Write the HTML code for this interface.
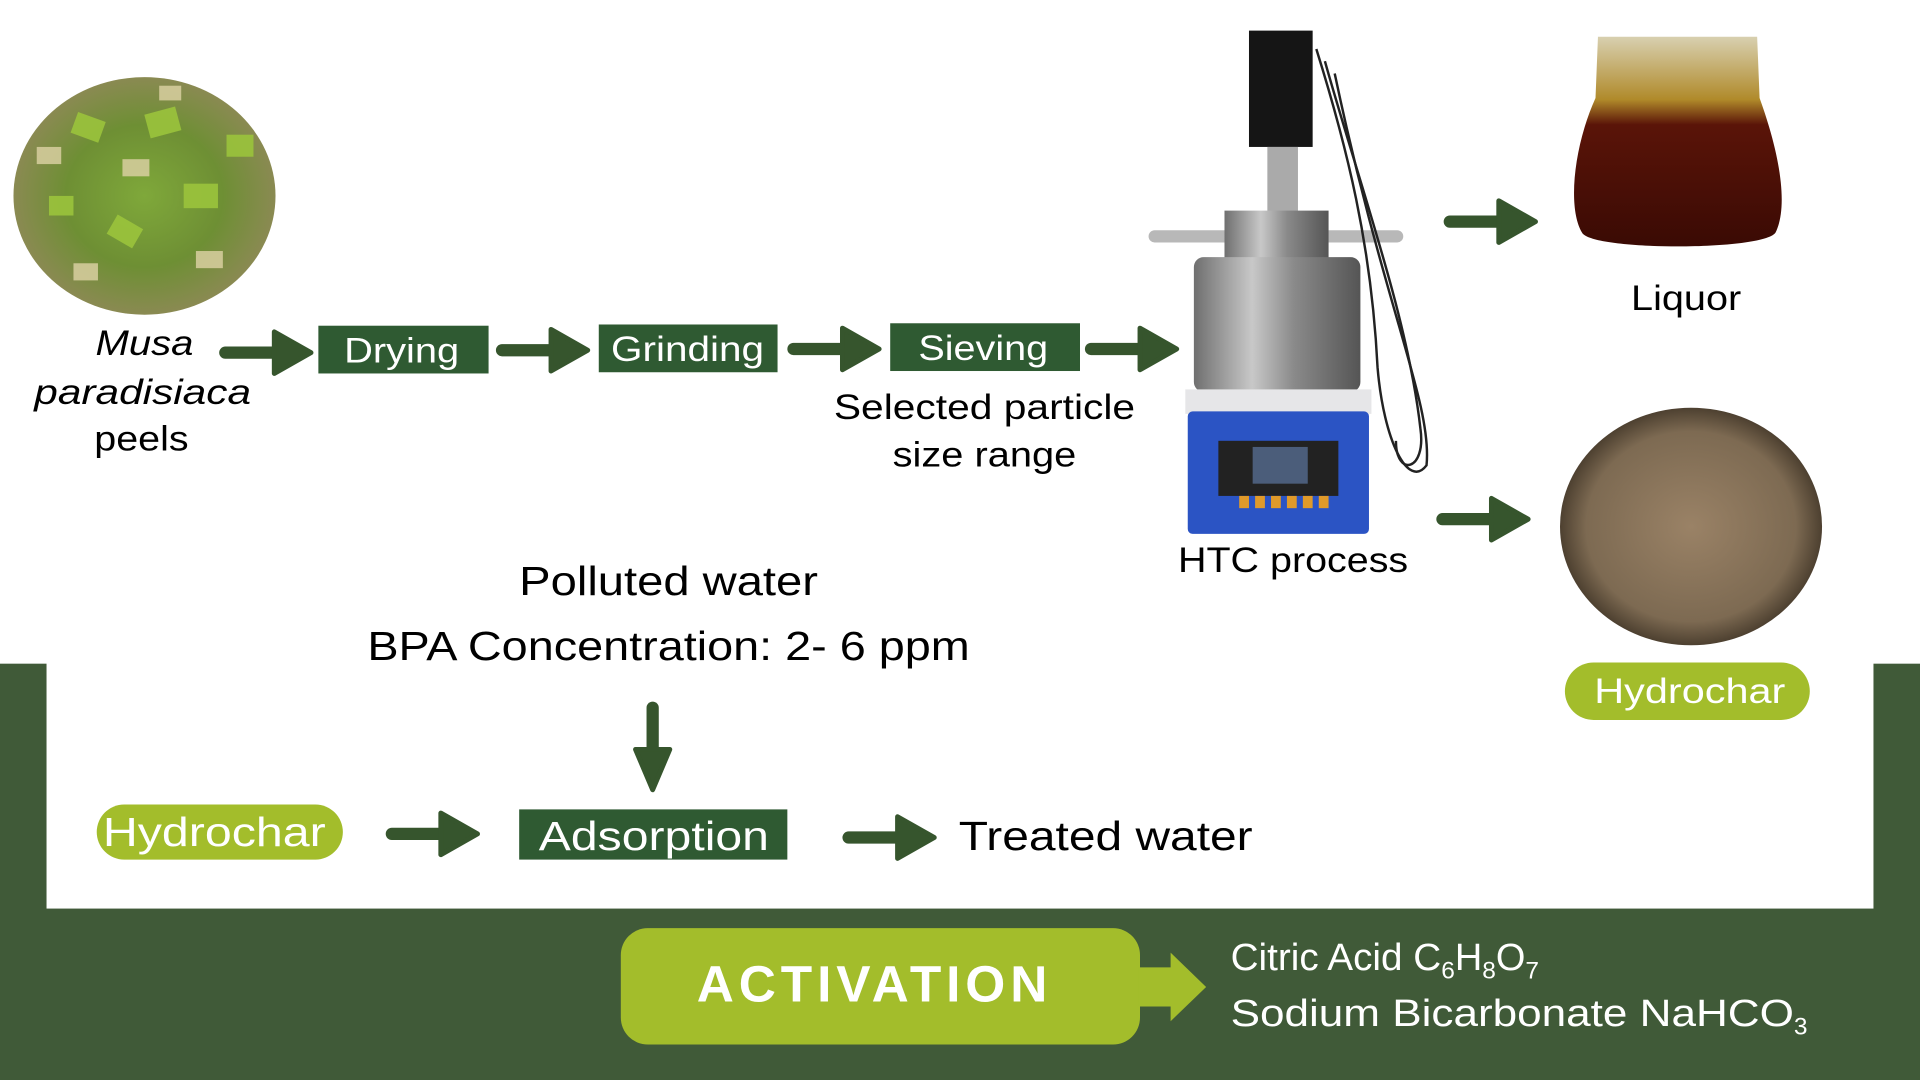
<!DOCTYPE html>
<html><head><meta charset="utf-8"><style>
html,body{margin:0;padding:0;background:#fff;overflow:hidden}
svg{display:block}
text{font-family:"Liberation Sans",sans-serif}
</style></head><body>
<svg width="1920" height="1080" viewBox="0 0 1568 882" preserveAspectRatio="none" xmlns="http://www.w3.org/2000/svg">
<defs>
<radialGradient id="peel" cx="50%" cy="50%" r="50%">
<stop offset="0" stop-color="#7fa83a"/><stop offset="0.6" stop-color="#6e8f34"/><stop offset="1" stop-color="#8a8a52"/>
</radialGradient>
<radialGradient id="char" cx="50%" cy="50%" r="50%">
<stop offset="0" stop-color="#9a8266"/><stop offset="0.8" stop-color="#7d6a52"/><stop offset="1" stop-color="#4d4030"/>
</radialGradient>
<linearGradient id="liq" x1="0" y1="0" x2="0" y2="1">
<stop offset="0" stop-color="#d8d0b0"/><stop offset="0.3" stop-color="#b08a2a"/><stop offset="0.42" stop-color="#5a1408"/><stop offset="1" stop-color="#3a0a04"/>
</linearGradient>
<linearGradient id="steel" x1="0" y1="0" x2="1" y2="0">
<stop offset="0" stop-color="#6f6f6f"/><stop offset="0.35" stop-color="#c8c8c8"/><stop offset="0.6" stop-color="#8a8a8a"/><stop offset="1" stop-color="#555"/>
</linearGradient>
<g id="arr"><line x1="0" y1="0" x2="44" y2="0" stroke="#36552d" stroke-width="10" stroke-linecap="round"/><path d="M40,-17 L70,0 L40,17 Z" fill="#36552d" stroke="#36552d" stroke-width="4" stroke-linejoin="round"/></g>
</defs>

<rect x="0" y="542" width="38" height="340" fill="#405a38"/>
<rect x="1530" y="542" width="38" height="340" fill="#405a38"/>
<rect x="0" y="742" width="1568" height="140" fill="#405a38"/>

<ellipse cx="118" cy="160" rx="107" ry="97" fill="url(#peel)"/>
<g fill="#9bc43c" opacity="0.9">
<rect x="60" y="95" width="24" height="18" transform="rotate(20 72 104)"/>
<rect x="120" y="90" width="26" height="20" transform="rotate(-15 133 100)"/>
<rect x="150" y="150" width="28" height="20"/>
<rect x="90" y="180" width="24" height="18" transform="rotate(30 102 189)"/>
<rect x="40" y="160" width="20" height="16"/>
<rect x="185" y="110" width="22" height="18"/>
</g>
<g fill="#d8cfa0" opacity="0.85">
<rect x="30" y="120" width="20" height="14"/><rect x="100" y="130" width="22" height="14"/>
<rect x="160" y="205" width="22" height="14"/><rect x="60" y="215" width="20" height="14"/>
<rect x="130" y="70" width="18" height="12"/>
</g>

<text x="78" y="290" font-size="29" font-style="italic" textLength="80" lengthAdjust="spacingAndGlyphs">Musa</text>
<text x="28" y="330" font-size="29" font-style="italic" textLength="177" lengthAdjust="spacingAndGlyphs">paradisiaca</text>
<text x="77" y="368" font-size="29" textLength="77" lengthAdjust="spacingAndGlyphs">peels</text>

<use href="#arr" x="184" y="288"/>
<rect x="260" y="266" width="139" height="39" fill="#2f5a32"/>
<text x="281" y="296" font-size="29" fill="#fff" textLength="94" lengthAdjust="spacingAndGlyphs">Drying</text>
<use href="#arr" x="410" y="286"/>
<rect x="489" y="265" width="146" height="39" fill="#2f5a32"/>
<text x="499" y="295" font-size="29" fill="#fff" textLength="125" lengthAdjust="spacingAndGlyphs">Grinding</text>
<use href="#arr" x="648" y="285"/>
<rect x="727" y="264" width="155" height="39" fill="#2f5a32"/>
<text x="750" y="294" font-size="29" fill="#fff" textLength="106" lengthAdjust="spacingAndGlyphs">Sieving</text>
<use href="#arr" x="891" y="285"/>
<text x="681" y="342" font-size="29" textLength="246" lengthAdjust="spacingAndGlyphs">Selected particle</text>
<text x="729" y="381" font-size="29" textLength="150" lengthAdjust="spacingAndGlyphs">size range</text>

<rect x="1020" y="25" width="52" height="95" fill="#151515"/>
<rect x="1035" y="120" width="25" height="60" fill="#aaa"/>
<rect x="938" y="188" width="208" height="10" rx="5" fill="#b8b8b8"/>
<rect x="1000" y="172" width="85" height="40" fill="url(#steel)"/>
<rect x="975" y="210" width="136" height="110" rx="8" fill="url(#steel)"/>
<rect x="968" y="318" width="152" height="20" fill="#e6e6e8"/>
<rect x="970" y="336" width="148" height="100" rx="4" fill="#2b54c4"/>
<rect x="995" y="360" width="98" height="45" fill="#222"/>
<rect x="1023" y="365" width="45" height="30" fill="#4b5d7a"/>
<g fill="#e09a2a"><rect x="1012" y="405" width="8" height="10"/><rect x="1025" y="405" width="8" height="10"/><rect x="1038" y="405" width="8" height="10"/><rect x="1051" y="405" width="8" height="10"/><rect x="1064" y="405" width="8" height="10"/><rect x="1077" y="405" width="8" height="10"/></g>
<path d="M1075,40 C1100,120 1120,200 1125,300 C1130,360 1150,400 1165,380 C1170,330 1130,250 1090,60" fill="none" stroke="#222" stroke-width="2"/>
<path d="M1082,50 C1110,150 1150,260 1160,350 C1165,385 1140,390 1140,360" fill="none" stroke="#222" stroke-width="2"/>
<text x="962" y="467" font-size="29" textLength="188" lengthAdjust="spacingAndGlyphs">HTC process</text>

<path d="M1305,30 L1435,30 L1437,80 C1455,130 1460,170 1450,190 C1440,205 1300,205 1292,190 C1280,170 1285,120 1303,80 Z" fill="url(#liq)"/>
<use href="#arr" x="1184" y="181"/>
<text x="1332" y="253" font-size="29" textLength="90" lengthAdjust="spacingAndGlyphs">Liquor</text>

<use href="#arr" x="1178" y="424"/>
<ellipse cx="1381" cy="430" rx="107" ry="97" fill="url(#char)"/>
<rect x="1278" y="541" width="200" height="47" rx="23.5" fill="#a3bd2b"/>
<text x="1302" y="574" font-size="29" fill="#fff" textLength="156" lengthAdjust="spacingAndGlyphs">Hydrochar</text>

<text x="424" y="486" font-size="33" textLength="244" lengthAdjust="spacingAndGlyphs">Polluted water</text>
<text x="300" y="539" font-size="33" textLength="492" lengthAdjust="spacingAndGlyphs">BPA Concentration: 2- 6 ppm</text>
<line x1="533" y1="578" x2="533" y2="615" stroke="#36552d" stroke-width="10" stroke-linecap="round"/>
<path d="M519,612 L547,612 L533,645 Z" fill="#36552d" stroke="#36552d" stroke-width="4" stroke-linejoin="round"/>

<rect x="79" y="657" width="201" height="45" rx="22.5" fill="#a3bd2b"/>
<text x="84" y="691" font-size="33" fill="#fff" textLength="182" lengthAdjust="spacingAndGlyphs">Hydrochar</text>
<use href="#arr" x="320" y="681"/>
<rect x="424" y="661" width="219" height="41" fill="#2f5a32"/>
<text x="440" y="694" font-size="33" fill="#fff" textLength="188" lengthAdjust="spacingAndGlyphs">Adsorption</text>
<use href="#arr" x="693" y="684"/>
<text x="783" y="694" font-size="33" textLength="240" lengthAdjust="spacingAndGlyphs">Treated water</text>

<rect x="507" y="758" width="424" height="95" rx="22" fill="#a3bd2b"/>
<text x="569" y="818" font-size="42" font-weight="bold" fill="#fff" letter-spacing="4">ACTIVATION</text>
<path d="M930,790 L956,790 L956,778 L985,806 L956,834 L956,822 L930,822 Z" fill="#a3bd2b"/>
<text x="1005" y="792" font-size="31" fill="#fff"><tspan textLength="172" lengthAdjust="spacingAndGlyphs">Citric Acid C</tspan><tspan font-size="20" dy="7">6</tspan><tspan dy="-7">H</tspan><tspan font-size="20" dy="7">8</tspan><tspan dy="-7">O</tspan><tspan font-size="20" dy="7">7</tspan></text>
<text x="1005" y="838" font-size="31" fill="#fff"><tspan textLength="460" lengthAdjust="spacingAndGlyphs">Sodium Bicarbonate NaHCO</tspan><tspan font-size="20" dy="7">3</tspan></text>
</svg>
</body></html>
